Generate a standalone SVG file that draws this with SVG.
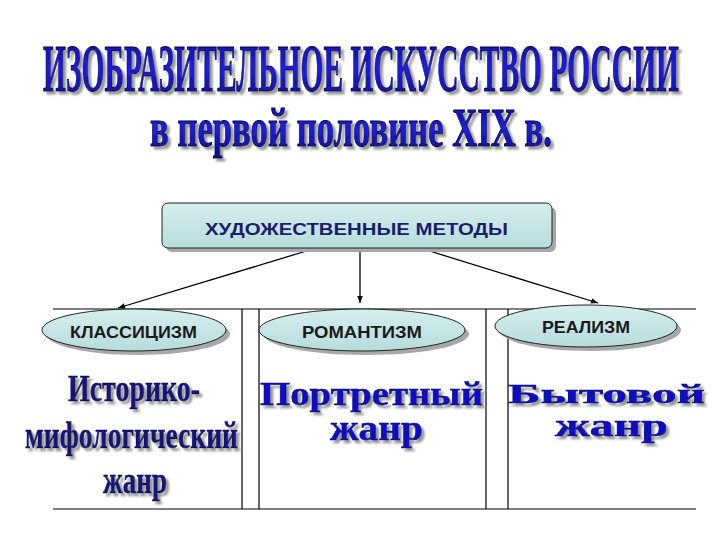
<svg xmlns="http://www.w3.org/2000/svg" width="720" height="540" viewBox="0 0 720 540">
<style>
.title{font-family:"Liberation Serif","Times New Roman",serif;font-weight:bold;fill:url(#blue);stroke:#00004a;stroke-width:1}
.genre{font-family:"Liberation Serif","Times New Roman",serif;font-weight:bold;fill:#14147a;stroke:#0a0a50;stroke-width:0.5}
.wide{font-family:"Liberation Serif","Times New Roman",serif;font-weight:bold;fill:#1111c8;stroke:#00006a;stroke-width:0.5}
.meth{font-family:"Liberation Sans",Arial,sans-serif;font-weight:bold;fill:#1a1a1a}
.node{fill:url(#cyan);stroke:#222;stroke-width:1}
.shadow{fill:#a8a8a8}
.conn{stroke:#000;stroke-width:1.3;fill:none}
.grid{stroke:#000;stroke-width:1.2;fill:none}
</style>
<defs>
<linearGradient id="blue" x1="0" y1="0" x2="0" y2="1">
<stop offset="0" stop-color="#0a0a9a"/>
<stop offset="0.5" stop-color="#1e1ee0"/>
<stop offset="1" stop-color="#0a0a8a"/>
</linearGradient>
<linearGradient id="cyan" x1="0" y1="0" x2="0" y2="1">
<stop offset="0" stop-color="#d6eeee"/>
<stop offset="1" stop-color="#b6dcdc"/>
</linearGradient>
<filter id="ts" x="-5%" y="-20%" width="110%" height="150%">
<feDropShadow dx="3" dy="3" stdDeviation="1.2" flood-color="#8a8a8a" flood-opacity="0.9"/>
</filter>
<marker id="arr" viewBox="0 0 10 10" refX="10" refY="5" markerWidth="7" markerHeight="7" orient="auto" markerUnits="userSpaceOnUse">
<path d="M0,1 L10,5 L0,9 z" fill="#000"/>
</marker>
</defs>
<rect width="720" height="540" fill="#fff"/>

<g id="title" filter="url(#ts)">
<text class="title" x="43" y="91" font-size="68" textLength="636" lengthAdjust="spacingAndGlyphs">ИЗОБРАЗИТЕЛЬНОЕ ИСКУССТВО РОССИИ</text>
<text class="title" x="150" y="146" font-size="54" textLength="402" lengthAdjust="spacingAndGlyphs">в первой половине XIX в.</text>
</g>

<g id="grid">
<line class="grid" x1="53" y1="309" x2="696" y2="309"/>
<line class="grid" x1="53" y1="509" x2="696" y2="509"/>
<line class="grid" x1="242" y1="309" x2="242" y2="509"/>
<line class="grid" x1="259" y1="309" x2="259" y2="509"/>
<line class="grid" x1="486" y1="309" x2="486" y2="509"/>
<line class="grid" x1="508" y1="309" x2="508" y2="509"/>
</g>

<g id="connectors">
<line class="conn" x1="313" y1="249" x2="118" y2="308" marker-end="url(#arr)"/>
<line class="conn" x1="360" y1="250" x2="360" y2="303" marker-end="url(#arr)"/>
<line class="conn" x1="423" y1="249" x2="598" y2="303" marker-end="url(#arr)"/>
</g>

<g id="methods">
<rect class="shadow" x="166" y="207" width="390" height="45" rx="6"/>
<rect class="node" x="162" y="203" width="390" height="45" rx="6"/>
<text class="meth" x="205" y="235" font-size="16" style="fill:#1c1c6c" textLength="303" lengthAdjust="spacingAndGlyphs">ХУДОЖЕСТВЕННЫЕ МЕТОДЫ</text>
</g>

<g id="classicism">
<ellipse class="shadow" cx="138" cy="334" rx="92" ry="21"/>
<ellipse class="node" cx="134" cy="330" rx="92" ry="21"/>
<text class="meth" x="70" y="338" font-size="17" textLength="127" lengthAdjust="spacingAndGlyphs">КЛАССИЦИЗМ</text>
</g>

<g id="romanticism">
<ellipse class="shadow" cx="366" cy="334" rx="103" ry="21"/>
<ellipse class="node" cx="362" cy="330" rx="103" ry="21"/>
<text class="meth" x="302" y="338" font-size="17" textLength="120" lengthAdjust="spacingAndGlyphs">РОМАНТИЗМ</text>
</g>

<g id="realism">
<ellipse class="shadow" cx="590" cy="330" rx="91" ry="21"/>
<ellipse class="node" cx="586" cy="326" rx="91" ry="21"/>
<text class="meth" x="542" y="333" font-size="17" textLength="88" lengthAdjust="spacingAndGlyphs">РЕАЛИЗМ</text>
</g>

<g id="genre-history" filter="url(#ts)">
<text class="genre" x="68" y="401" font-size="38" textLength="132" lengthAdjust="spacingAndGlyphs">Историко-</text>
<text class="genre" x="25" y="448" font-size="38" textLength="213" lengthAdjust="spacingAndGlyphs">мифологический</text>
<text class="genre" x="103" y="493" font-size="38" textLength="64" lengthAdjust="spacingAndGlyphs">жанр</text>
</g>

<g id="genre-portrait" filter="url(#ts)">
<text class="wide" x="260" y="405" font-size="34" textLength="223" lengthAdjust="spacingAndGlyphs">Портретный</text>
<text class="wide" x="330" y="440" font-size="36" textLength="93" lengthAdjust="spacingAndGlyphs">жанр</text>
</g>

<g id="genre-everyday" filter="url(#ts)">
<text class="wide" x="508" y="403" font-size="28" textLength="197" lengthAdjust="spacingAndGlyphs">Бытовой</text>
<text class="wide" x="555" y="436" font-size="32" textLength="113" lengthAdjust="spacingAndGlyphs">жанр</text>
</g>
</svg>
